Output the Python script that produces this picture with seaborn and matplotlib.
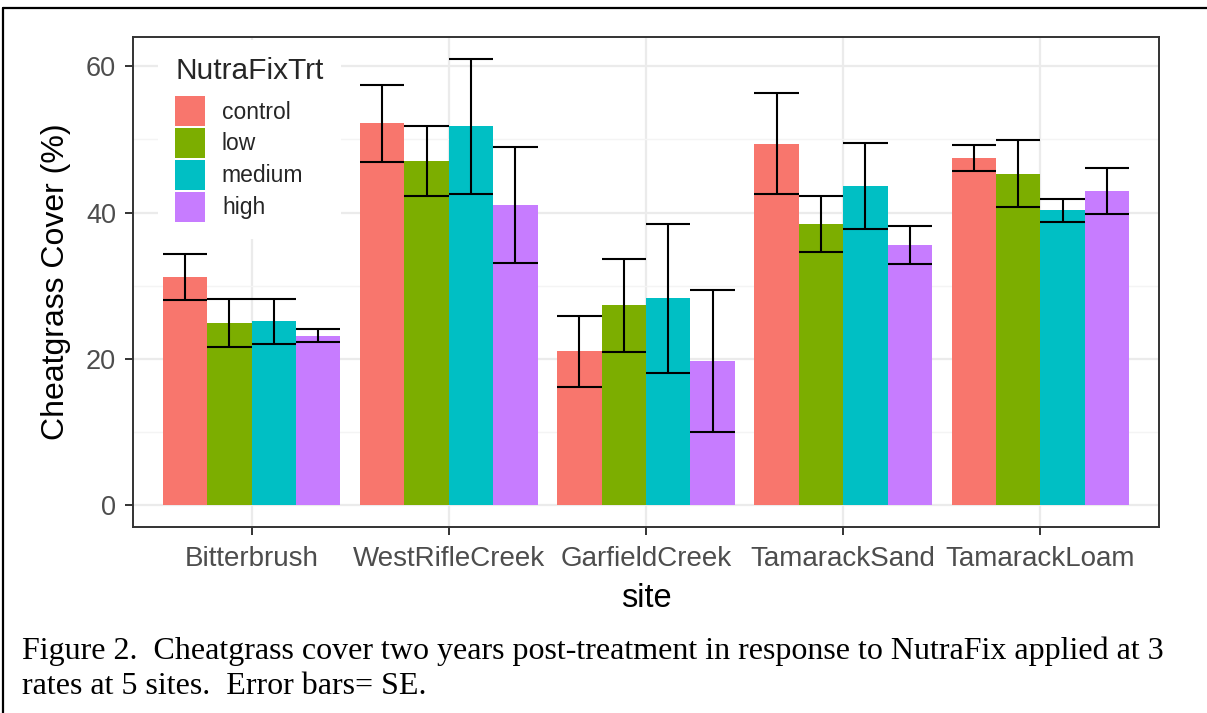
import matplotlib
matplotlib.use("Agg")
import matplotlib.pyplot as plt
from matplotlib.lines import Line2D
import seaborn as sns
import pandas as pd
import numpy as np

sites = ["Bitterbrush", "WestRifleCreek", "GarfieldCreek", "TamarackSand", "TamarackLoam"]
treatments = ["control", "low", "medium", "high"]
colors = ["#F8766D", "#7CAE00", "#00BFC4", "#C77CFF"]

# mean cover (%) per site, one list per treatment
control_mean = [31.2, 52.2, 21.0, 49.4, 47.5]
low_mean     = [24.9, 47.0, 27.3, 38.4, 45.3]
medium_mean  = [25.1, 51.8, 28.3, 43.6, 40.3]
high_mean    = [23.15, 41.0, 19.7, 35.5, 43.0]

# standard errors
control_se = [3.1, 5.3, 4.9, 6.9, 1.75]
low_se     = [3.3, 4.8, 6.4, 3.8, 4.6]
medium_se  = [3.1, 9.2, 10.2, 5.9, 1.6]
high_se    = [0.9, 7.9, 9.7, 2.6, 3.15]

caption_lines = [
    "Figure 2.  Cheatgrass cover two years post-treatment in response to NutraFix applied at 3",
    "rates at 5 sites.  Error bars= SE.",
]

means = [control_mean, low_mean, medium_mean, high_mean]
ses = [control_se, low_se, medium_se, high_se]
rows = []
for t, m, s in zip(treatments, means, ses):
    for site, mv, sv in zip(sites, m, s):
        rows.append({"site": site, "NutraFixTrt": t, "cover": mv, "se": sv})
df = pd.DataFrame(rows)

sns.set_theme(style="white")
plt.rcParams["font.family"] = ["Liberation Sans", "DejaVu Sans"]

W, H = 1207, 713
fig = plt.figure(figsize=(W / 100, H / 100), dpi=100)
L, R, T, B = 133.3, 1158.7, 36.7, 527.3
ax = fig.add_axes([L / W, 1 - B / H, (R - L) / W, (B - T) / H])

sns.barplot(data=df, x="site", y="cover", hue="NutraFixTrt", order=sites,
            hue_order=treatments, palette=colors, width=0.9, errorbar=None,
            saturation=1, linewidth=0, edgecolor="none", ax=ax, zorder=2)

# error bars from bar geometry
for cont, t in zip(ax.containers, treatments):
    sub = df[df["NutraFixTrt"] == t].set_index("site").loc[sites]
    for patch, mv, sv in zip(cont.patches, sub["cover"], sub["se"]):
        x0 = patch.get_x()
        x1 = x0 + patch.get_width()
        xc = (x0 + x1) / 2
        ax.vlines(xc, mv - sv, mv + sv, color="black", lw=1.5, zorder=3)
        ax.hlines([mv - sv, mv + sv], x0, x1, color="black", lw=1.5, zorder=3)

ax.set_xlim(-0.6, 4.6)
ax.set_ylim(-3.05, 64.05)
ax.set_yticks([0, 20, 40, 60])
ax.set_yticks([10, 30, 50], minor=True)
ax.grid(True, which="major", color="#EBEBEB", lw=1.6, zorder=0)
ax.grid(True, which="minor", axis="y", color="#F4F4F4", lw=1.0, zorder=0)
ax.set_axisbelow(True)
for sp in ax.spines.values():
    sp.set_color("#333333")
    sp.set_linewidth(1.4)
    sp.set_visible(True)
ax.tick_params(axis="both", which="major", length=6, width=1.4, color="#333333",
               labelcolor="#4D4D4D", left=True, bottom=True)
ax.tick_params(axis="x", which="major", labelsize=20, pad=7.5)
ax.tick_params(axis="y", which="major", labelsize=19.5, pad=6.5)
ax.tick_params(axis="both", which="minor", length=0)
ax.set_xlabel("site", fontsize=23.5, color="black", labelpad=8)
ax.set_ylabel("Cheatgrass Cover (%)", fontsize=23, color="black", labelpad=11)

leg = ax.legend(title="NutraFixTrt", loc="upper left",
                bbox_to_anchor=(158 / W, 1 - 40 / H), bbox_transform=fig.transFigure,
                borderaxespad=0, fontsize=16.5, title_fontsize=21.5, frameon=True,
                facecolor="white", edgecolor="white", framealpha=1,
                handlelength=1.31, handleheight=1.6, labelspacing=0.11,
                handletextpad=0.73, borderpad=0.75, alignment="left")
leg.get_frame().set_linewidth(0)
leg._legend_box.sep = 8

fig.text(22 / W, 1 - 651 / H, caption_lines[0], family=["Liberation Serif", "DejaVu Serif"],
         fontsize=23, va="center", ha="left", color="black")
fig.text(22 / W, 1 - 687 / H, caption_lines[1], family=["Liberation Serif", "DejaVu Serif"],
         fontsize=23, va="center", ha="left", color="black")

fig.add_artist(Line2D([2.5 / W, 1], [1 - 7.5 / H, 1 - 7.5 / H], color="black", lw=1.6,
                      transform=fig.transFigure))
fig.add_artist(Line2D([2.5 / W, 2.5 / W], [0, 1 - 7.5 / H], color="black", lw=1.6,
                      transform=fig.transFigure))

fig.savefig("out.png", dpi=100, facecolor="white")
